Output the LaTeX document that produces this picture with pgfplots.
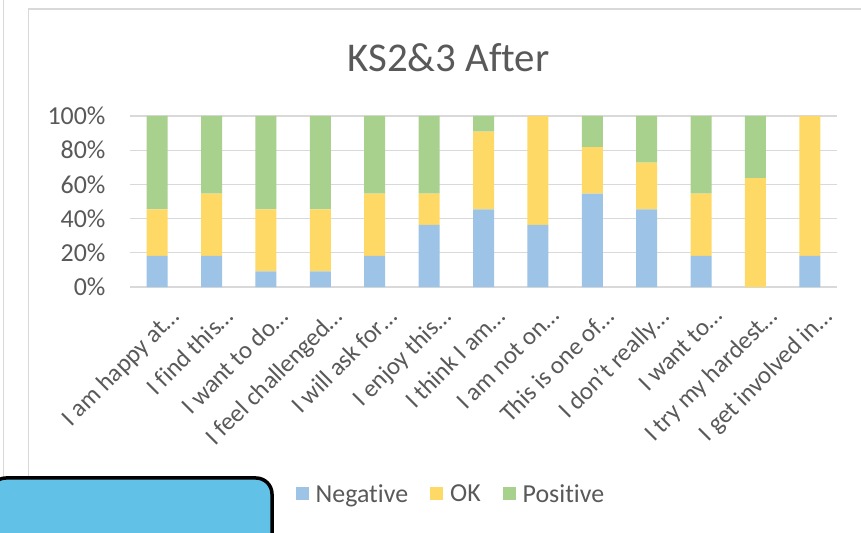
\documentclass[border=0pt]{standalone}
\usepackage{pgfplots}
\pgfplotsset{compat=1.18}
\usepackage{fontspec}
\setmainfont[Ligatures=NoCommon]{Carlito}
\definecolor{neg}{HTML}{9DC3E6}
\definecolor{okc}{HTML}{FFD966}
\definecolor{pos}{HTML}{A9D18E}
\definecolor{txt}{HTML}{595959}
\definecolor{gridc}{HTML}{D9D9D9}
\definecolor{boxblue}{HTML}{62C1E6}
\pgfplotstableread{
x neg ok pos
0 18.18 27.27 54.55
1 18.18 36.36 45.46
2 9.09 36.36 54.55
3 9.09 36.36 54.55
4 18.18 36.36 45.46
5 36.36 18.18 45.46
6 45.45 45.45 9.10
7 36.36 63.64 0
8 54.55 27.27 18.18
9 45.45 27.27 27.28
10 18.18 36.36 45.46
11 0 63.64 36.36
12 18.18 81.82 0
}\datatable
\begin{document}
\begin{tikzpicture}
\path[use as bounding box] (0,0) rectangle (861bp,533bp);
\clip (0,0) rectangle (861bp,533bp);
\fill[white] (0,0) rectangle (861bp,533bp);
\draw[gridc, line width=1.5bp] (3.5bp,540bp) -- (3.5bp,-10bp);
\draw[gridc, line width=1.5bp] (28.5bp,-10bp) -- (28.5bp,524bp) -- (880bp,524bp);
\node[text=txt, font=\fontsize{41}{48}\selectfont, anchor=base, inner sep=0pt] at (448.5bp,461bp) {KS2\&3 After};
\begin{axis}[
  at={(130bp,246bp)}, anchor=south west,
  scale only axis, width=707bp, height=171bp,
  ybar stacked, bar width=21bp,
  xmin=-0.5, xmax=12.5, ymin=0, ymax=100,
  ytick={0,20,40,60,80,100},
  yticklabel={\pgfmathprintnumber[assume math mode=true]{\tick}\%},
  ymajorgrids, grid style={gridc, line width=1.3bp},
  axis line style={draw=none},
  major tick length=0pt,
  xtick=data,
  xticklabels={I am happy at…,I find this…,I want to do…,I feel challenged…,I will ask for…,I enjoy this…,I think I am…,I am not on…,This is one of…,I don’t really…,I want to…,I try my hardest…,I get involved in…},
  x tick label style={rotate=45, anchor=north east, text=txt, font=\fontsize{25}{28}\selectfont, inner sep=2bp, xshift=-3bp, yshift=-19bp},
  y tick label style={text=txt, font=\fontsize{26}{30}\selectfont, xshift=-21bp},
  legend style={at={(0.454,-1.21)}, anchor=center, draw=none, fill=none, legend columns=-1,
    font=\fontsize{26}{30}\selectfont, text=txt,
    /tikz/every odd column/.append style={column sep=5bp},
    /tikz/every even column/.append style={column sep=20bp}},
  legend image code/.code={\fill[#1] (0bp,-6.5bp) rectangle (13bp,6.5bp);},
  clip=false,
]
\addplot[fill=neg, draw=none] table[x=x, y=neg] {\datatable};
\addplot[fill=okc, draw=none] table[x=x, y=ok] {\datatable};
\addplot[fill=pos, draw=none] table[x=x, y=pos] {\datatable};
\legend{Negative,OK,Positive}
\end{axis}
\draw[black, fill=boxblue, line width=3.5bp, rounded corners=16bp] (-10bp,-10bp) -- (-10bp,55bp) -- (272bp,55bp) -- (272bp,-10bp);
\end{tikzpicture}
\end{document}
